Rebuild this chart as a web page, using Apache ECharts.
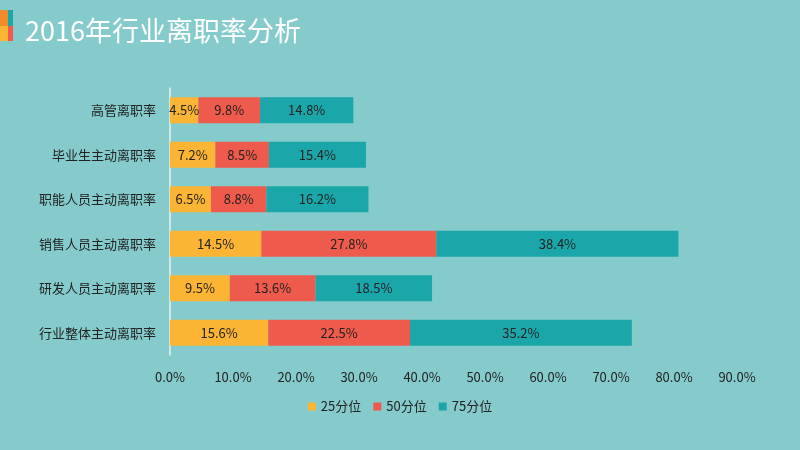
<!DOCTYPE html>
<html><head><meta charset="utf-8">
<script src="https://cdn.jsdelivr.net/npm/echarts@6/dist/echarts.min.js"></script>
<style>html,body{margin:0;padding:0;background:#86CBCB;}#c{width:800px;height:450px;}</style>
</head><body><div id="c"></div>
<script>
const categories = ['行业整体主动离职率','研发人员主动离职率','销售人员主动离职率','职能人员主动离职率','毕业生主动离职率','高管离职率'];
const p25 = [15.6, 9.5, 14.5, 6.5, 7.2, 4.5];
const p50 = [22.5, 13.6, 27.8, 8.8, 8.5, 9.8];
const p75 = [35.2, 18.5, 38.4, 16.2, 15.4, 14.8];
const seriesNames = ['25分位','50分位','75分位'];
const colors = ['#FBB433','#EE5A4B','#1BA6A9'];
const chart = echarts.init(document.getElementById('c'));
const mk = (name, data, color) => ({
  name, type: 'bar', stack: 'a', data, barWidth: 26,
  itemStyle: {color},
  label: {show: true, position: 'inside', formatter: p => p.value.toFixed(1) + '%', color: '#222', fontSize: 13, fontFamily: 'Noto Sans CJK SC'}
});
chart.setOption({
  backgroundColor: '#86CBCB',
  title: {text: '2016年行业离职率分析', left: 20, top: 12, textStyle: {color: '#fff', fontSize: 27, fontWeight: 'normal', fontFamily: 'Noto Sans CJK SC'}},
  graphic: [
    {type: 'rect', shape: {x: 0, y: 10, width: 8, height: 16}, style: {fill: '#F58A2A'}},
    {type: 'rect', shape: {x: 8, y: 10, width: 5, height: 16}, style: {fill: '#1BA6A9'}},
    {type: 'rect', shape: {x: 0, y: 26, width: 8, height: 15}, style: {fill: '#FBB433'}},
    {type: 'rect', shape: {x: 8, y: 26, width: 5, height: 15}, style: {fill: '#EE5A4B'}}
  ],
  legend: {bottom: 32, left: 'center', itemWidth: 8, itemHeight: 8, itemGap: 12, data: seriesNames, textStyle: {color: '#222', fontSize: 13, fontFamily: 'Noto Sans CJK SC'}, icon: 'rect'},
  grid: {left: 170, right: 63, top: 88, bottom: 95, containLabel: false},
  xAxis: {type: 'value', min: 0, max: 90, interval: 10, axisLine: {show: false}, axisTick: {show: false}, splitLine: {show: false},
    axisLabel: {formatter: v => v.toFixed(1) + '%', color: '#222', fontSize: 13, margin: 16, fontFamily: 'Noto Sans CJK SC'}},
  yAxis: {type: 'category', data: categories, axisTick: {show: false}, axisLine: {lineStyle: {color: '#E6F2F2', width: 1.5}},
    axisLabel: {color: '#222', fontSize: 13, margin: 14, fontFamily: 'Noto Sans CJK SC'}},
  series: [mk(seriesNames[0], p25, colors[0]), mk(seriesNames[1], p50, colors[1]), mk(seriesNames[2], p75, colors[2])]
});
</script></body></html>
